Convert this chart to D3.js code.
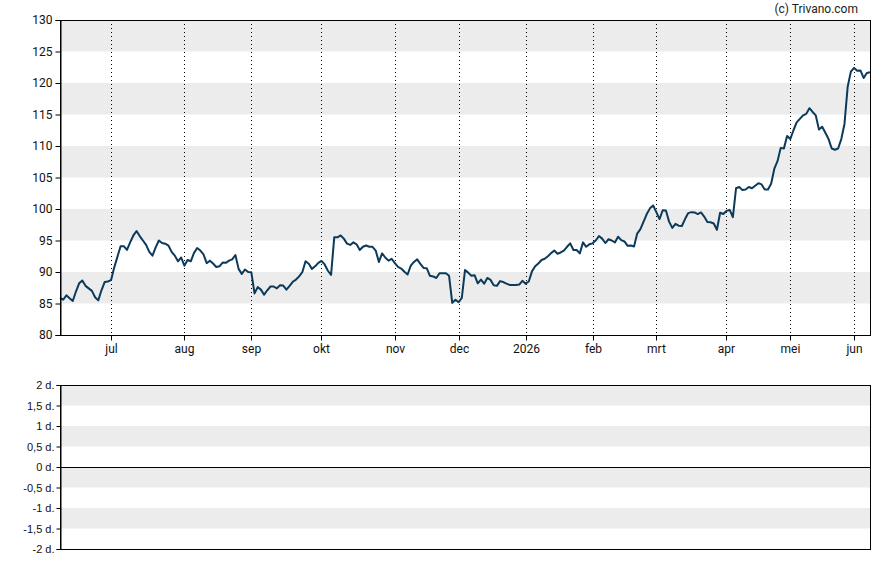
<!DOCTYPE html>
<html>
<head>
<meta charset="utf-8">
<script src="https://cdn.jsdelivr.net/npm/d3@7"></script>
<style>
  html, body { margin: 0; padding: 0; background: #fff; }
  svg { display: block; }
</style>
</head>
<body>
<svg id="chart" width="888" height="565"></svg>
<script>
// ---- data (trading-day index 0 = 2025-06-09) ----
const prices = [
  85.9, 85.6, 86.3, 85.85, 85.4, 86.9, 88.2, 88.65, 87.8, 87.4,
  87.0, 86.0, 85.5, 87.1, 88.4, 88.5, 88.7, 90.7, 92.4, 94.1,
  94.1, 93.5, 94.7, 95.8, 96.5, 95.7, 95.0, 94.3, 93.2, 92.6,
  93.9, 95.0, 94.6, 94.5, 94.2, 93.2, 92.6, 91.7, 92.3, 91.0,
  91.9, 91.7, 93.0, 93.8, 93.4, 92.8, 91.4, 91.8, 91.35, 90.8,
  90.9, 91.5, 91.45, 91.8, 92.0, 92.7, 90.5, 89.7, 90.4, 90.0,
  89.95, 86.6, 87.6, 87.2, 86.4, 87.1, 87.7, 87.7, 87.4, 87.9,
  87.85, 87.2, 87.8, 88.45, 88.8, 89.3, 90.0, 91.7, 91.3, 90.5,
  90.9, 91.45, 91.75, 91.2, 90.2, 89.55, 95.5, 95.5, 95.8, 95.3,
  94.5, 94.3, 94.7, 94.4, 93.5, 94.0, 94.2, 94.0, 94.0, 93.4,
  91.6, 92.95, 92.3, 91.8, 92.1, 91.4, 90.8, 90.55, 90.05, 89.6,
  91.0, 91.6, 92.0, 91.3, 90.65, 90.6, 89.4, 89.3, 89.05, 89.8,
  89.8, 89.8, 89.4, 85.1, 85.6, 85.2, 85.9, 90.3, 89.9, 89.4,
  89.5, 88.2, 88.8, 88.15, 89.05, 88.75, 87.9, 87.8, 88.55, 88.4,
  88.15, 87.95, 87.95, 87.95, 88.0, 88.6, 88.15, 88.5, 90.1, 90.9,
  91.35, 91.9, 92.1, 92.5, 93.0, 93.4, 92.9, 93.1, 93.4, 94.0,
  94.55, 93.5, 93.5, 92.95, 94.7, 94.0, 94.4, 94.55, 95.0, 95.7,
  95.3, 94.6, 95.2, 95.0, 94.7, 95.6, 95.05, 94.85, 94.15, 94.2,
  94.05, 96.1, 96.8, 98.0, 99.2, 100.1, 100.55, 99.5, 98.4, 99.8,
  99.75, 98.0, 97.0, 97.65, 97.35, 97.3, 98.4, 99.35, 99.5, 99.45,
  99.2, 99.45, 98.8, 97.95, 97.9, 97.7, 96.7, 99.4, 99.2, 99.7,
  99.85, 98.7, 103.3, 103.5, 103.0, 103.1, 103.5, 103.3, 103.7, 104.1,
  103.9, 103.1, 103.1, 104.0, 106.4, 107.6, 109.7, 109.6, 111.6, 111.1,
  112.5, 113.75, 114.3, 114.85, 115.1, 116.0, 115.4, 114.85, 112.6, 113.05,
  112.1, 111.1, 109.6, 109.4, 109.6, 111.1, 113.5, 119.4, 121.8, 122.4,
  121.95, 122.0, 120.8, 121.6, 121.7
];
const monthLabels = ["jul", "aug", "sep", "okt", "nov", "dec", "2026", "feb", "mrt", "apr", "mei", "jun"];
const monthIndex  = [16, 39, 60, 82, 105, 125, 146, 167, 187, 209, 229, 249];
const priceTicks  = [80, 85, 90, 95, 100, 105, 110, 115, 120, 125, 130];
const lowerTicks  = [-2, -1.5, -1, -0.5, 0, 0.5, 1, 1.5, 2];

// ---- layout ----
const svg = d3.select("#chart");
const L = 60, R = 870;
const top1 = 20, bot1 = 335;
const top2 = 385, bot2 = 549;
const font = "Roboto, 'Liberation Sans', Arial, sans-serif";

const x = d3.scaleLinear().domain([0, prices.length - 1]).range([L, R]);
const y = d3.scaleLinear().domain([80, 130]).range([bot1, top1]);
const y2 = d3.scaleLinear().domain([-2, 2]).range([bot2, top2]);

// ---- upper panel bands ----
const g1 = svg.append("g");
const bands1 = d3.range(0, priceTicks.length - 1).filter(i => (priceTicks.length - 2 - i) % 2 === 0);
g1.selectAll("rect.band")
  .data(bands1)
  .join("rect")
  .attr("x", L).attr("width", R - L)
  .attr("y", i => y(priceTicks[i + 1]))
  .attr("height", i => y(priceTicks[i]) - y(priceTicks[i + 1]))
  .attr("fill", "#ececec");

// month gridlines
g1.selectAll("line.month")
  .data(monthIndex)
  .join("line")
  .attr("x1", d => Math.round(x(d)) + 0.5).attr("x2", d => Math.round(x(d)) + 0.5)
  .attr("y1", top1).attr("y2", bot1)
  .attr("stroke", "#000").attr("stroke-width", 1)
  .attr("stroke-dasharray", "1,3");

// price line
const line = d3.line().x((d, i) => x(i)).y(d => y(d));
g1.append("path")
  .datum(prices)
  .attr("d", line)
  .attr("fill", "none")
  .attr("stroke", "#0c3a5b")
  .attr("stroke-width", 2)
  .attr("stroke-linejoin", "round");

// border
g1.append("rect")
  .attr("x", L + 0.5).attr("y", top1 + 0.5)
  .attr("width", R - L).attr("height", bot1 - top1)
  .attr("fill", "none").attr("stroke", "#000").attr("stroke-width", 1);

// left axis
const yAxis = d3.axisLeft(y).tickValues(priceTicks).tickSize(5).tickPadding(3).tickFormat(d3.format("d"));
const ya = svg.append("g").attr("transform", `translate(${L + 0.5},0)`).call(yAxis);
ya.select(".domain").attr("stroke", "#000");
ya.selectAll("text").attr("font-family", font).attr("font-size", 12).attr("fill", "#111");

// bottom axis
const xAxis = d3.axisBottom(x).tickValues(monthIndex).tickSize(5).tickPadding(4)
  .tickFormat((d, i) => monthLabels[i]);
const xa = svg.append("g").attr("transform", `translate(0,${bot1 + 0.5})`).call(xAxis);
xa.select(".domain").remove();
xa.selectAll(".tick").attr("transform", d => `translate(${Math.round(x(d)) + 0.5},0)`);
xa.selectAll("text").attr("font-family", font).attr("font-size", 12).attr("fill", "#111");

// copyright
svg.append("text")
  .attr("x", 858).attr("y", 13)
  .attr("text-anchor", "end")
  .attr("font-family", font).attr("font-size", 12).attr("fill", "#222")
  .text("(c) Trivano.com");

// ---- lower panel ----
const g2 = svg.append("g");
const bands2 = [[1.5, 2], [0.5, 1], [-0.5, 0], [-1.5, -1]];
g2.selectAll("rect.band2")
  .data(bands2)
  .join("rect")
  .attr("x", L).attr("width", R - L)
  .attr("y", d => y2(d[1]))
  .attr("height", d => y2(d[0]) - y2(d[1]))
  .attr("fill", "#ececec");

g2.append("line")
  .attr("x1", L).attr("x2", R)
  .attr("y1", Math.round(y2(0)) + 0.5).attr("y2", Math.round(y2(0)) + 0.5)
  .attr("stroke", "#000").attr("stroke-width", 1);

g2.append("rect")
  .attr("x", L + 0.5).attr("y", top2 + 0.5)
  .attr("width", R - L).attr("height", bot2 - top2)
  .attr("fill", "none").attr("stroke", "#000").attr("stroke-width", 1);

const y2Axis = d3.axisLeft(y2).tickValues(lowerTicks).tickSize(4).tickPadding(2)
  .tickFormat(d => String(d).replace(".", ",") + " d.");
const y2a = svg.append("g").attr("transform", `translate(${L + 0.5},0)`).call(y2Axis);
y2a.select(".domain").attr("stroke", "#000");
y2a.selectAll("text").attr("font-family", "'Liberation Sans', Arial, sans-serif").attr("font-size", 11).attr("fill", "#111");
</script>
</body>
</html>
